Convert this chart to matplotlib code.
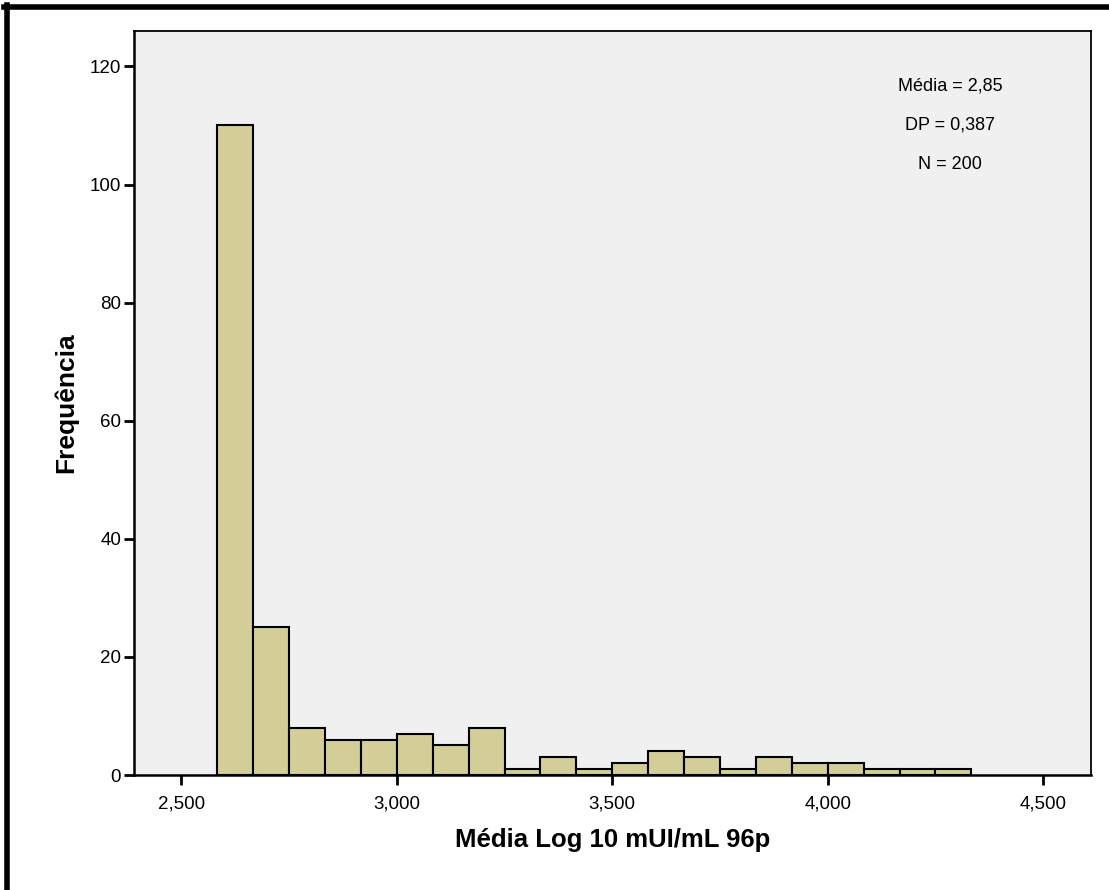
import numpy as np
import matplotlib.pyplot as plt
from matplotlib.lines import Line2D
from matplotlib.ticker import FuncFormatter

# histogram data
bin_start = 2.5 + 1 / 12
bin_width = 1 / 12
counts = [110, 25, 8, 6, 6, 7, 5, 8, 1, 3, 1, 2, 4, 3, 1, 3, 2, 2, 1, 1, 1]
x_ticks = [2.5, 3.0, 3.5, 4.0, 4.5]
y_ticks = [0, 20, 40, 60, 80, 100, 120]
stats_lines = ["Média = 2,85", "DP = 0,387", "N = 200"]

plt.rcParams['font.family'] = ['Liberation Sans', 'DejaVu Sans']

fig = plt.figure(figsize=(11.09, 8.9), dpi=100)
ax = fig.add_axes([0.1204, 0.1292, 0.9838 - 0.1204, 0.9652 - 0.1292])
ax.set_facecolor('#F0F0F0')

edges = bin_start + bin_width * np.arange(len(counts))
ax.bar(edges, counts, width=bin_width, align='edge', color='#D3CE98',
       edgecolor='black', linewidth=1.5, zorder=3)

ax.set_xlim(2.389, 4.611)
ax.set_ylim(0, 126)
ax.set_xticks(x_ticks)
ax.set_yticks(y_ticks)
ax.xaxis.set_major_formatter(FuncFormatter(lambda v, p: f"{v:.3f}".replace('.', ',')))
ax.tick_params(axis='both', direction='out', length=7, width=2, labelsize=13.5, pad=2)
ax.tick_params(axis='x', pad=8)

for s in ax.spines.values():
    s.set_linewidth(1.3)
ax.spines['left'].set_linewidth(1.8)
ax.spines['bottom'].set_linewidth(1.8)

ax.set_xlabel("Média Log 10 mUI/mL 96p", fontsize=18.5, fontweight='bold', labelpad=11)
ax.set_ylabel("Frequência", fontsize=19, fontweight='bold', labelpad=8)

for i, line in enumerate(stats_lines):
    ax.text(0.853, 0.926 - i * 0.053, line, transform=ax.transAxes,
            ha='center', va='center', fontsize=13)

# outer frame (top and left only)
fig.add_artist(Line2D([0.006, 0.006], [0, 0.994], transform=fig.transFigure,
                      color='black', linewidth=4))
fig.add_artist(Line2D([0.004, 1.0], [0.992, 0.992], transform=fig.transFigure,
                      color='black', linewidth=4))

fig.savefig('out.png', dpi=100)
